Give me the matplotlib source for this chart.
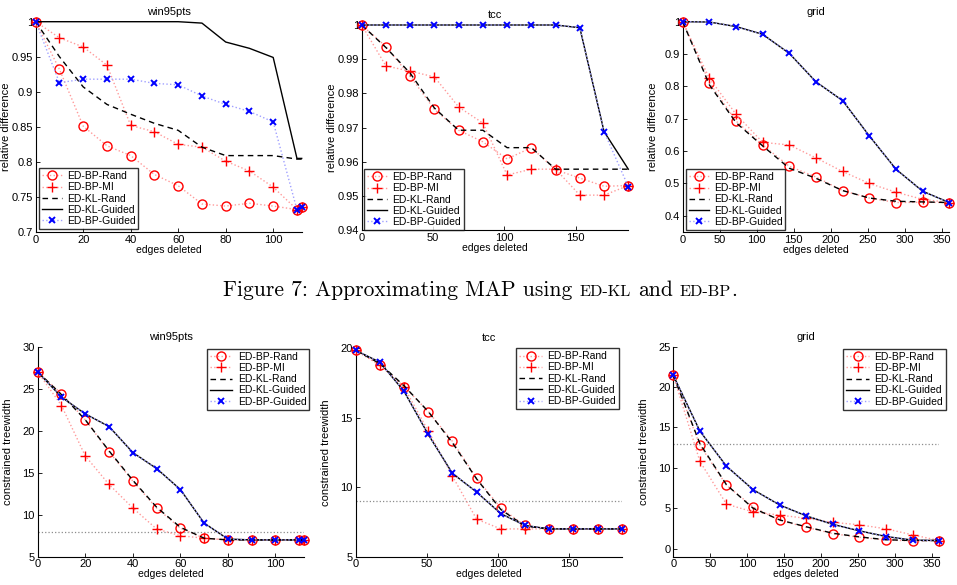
import matplotlib
matplotlib.use("Agg")
import matplotlib.pyplot as plt
from matplotlib.ticker import FuncFormatter

plt.rcParams["font.family"] = ["Liberation Sans", "DejaVu Sans"]

# ---------------- data ----------------
labels = ["ED-BP-Rand", "ED-BP-MI", "ED-KL-Rand", "ED-KL-Guided", "ED-BP-Guided"]
titles = ["win95pts", "tcc", "grid"]

x_win = [0, 10, 20, 30, 40, 50, 60, 70, 80, 90, 100, 110, 112]
x_tcc = [0, 17, 34, 51, 68, 85, 102, 119, 136, 153, 170, 187]
x_grid = [0, 36, 72, 108, 144, 180, 216, 252, 288, 324, 360]

# relative difference (top row)
win_rel_bp_rand = [1.0, 0.932, 0.851, 0.823, 0.809, 0.782, 0.766, 0.740, 0.737, 0.741, 0.737, 0.732, 0.735]
win_rel_bp_mi = [1.0, 0.977, 0.964, 0.938, 0.852, 0.843, 0.825, 0.821, 0.801, 0.787, 0.764, 0.732, 0.735]
win_rel_kl_rand = [1.0, 0.950, 0.907, 0.882, 0.868, 0.855, 0.845, 0.821, 0.809, 0.809, 0.809, 0.804, 0.804]
win_rel_kl_guided = [1.0, 1.0, 1.0, 1.0, 1.0, 1.0, 1.0, 0.998, 0.971, 0.962, 0.949, 0.805, 0.805]
win_rel_bp_guided = [1.0, 0.913, 0.918, 0.918, 0.918, 0.912, 0.910, 0.894, 0.882, 0.872, 0.857, 0.732, 0.735]

tcc_rel_bp_rand = [1.0, 0.9937, 0.985, 0.9753, 0.9692, 0.9658, 0.9608, 0.9641, 0.9576, 0.9552, 0.9528, 0.953]
tcc_rel_bp_mi = [1.0, 0.988, 0.9865, 0.9848, 0.976, 0.9713, 0.9561, 0.9578, 0.9578, 0.9502, 0.9502, 0.953]
tcc_rel_kl_rand = [1.0, 0.9934, 0.9859, 0.9757, 0.9692, 0.9692, 0.9641, 0.9641, 0.9578, 0.9578, 0.9578, 0.9578]
tcc_rel_kl_guided = [1.0, 1.0, 1.0, 1.0, 1.0, 1.0, 1.0, 1.0, 1.0, 0.9992, 0.9688, 0.9578]
tcc_rel_bp_guided = [1.0, 1.0, 1.0, 1.0, 1.0, 1.0, 1.0, 1.0, 1.0, 0.9992, 0.9688, 0.9527]

grid_rel_bp_rand = [1.0, 0.812, 0.693, 0.619, 0.553, 0.520, 0.478, 0.455, 0.441, 0.442, 0.441]
grid_rel_bp_mi = [1.0, 0.825, 0.714, 0.627, 0.619, 0.579, 0.537, 0.500, 0.473, 0.451, 0.441]
grid_rel_kl_rand = [1.0, 0.805, 0.688, 0.616, 0.547, 0.516, 0.478, 0.455, 0.445, 0.443, 0.441]
grid_rel_kl_guided = [1.0, 0.999, 0.985, 0.961, 0.902, 0.814, 0.756, 0.647, 0.544, 0.476, 0.441]
grid_rel_bp_guided = [1.0, 0.999, 0.985, 0.961, 0.902, 0.814, 0.756, 0.647, 0.544, 0.476, 0.441]

# constrained treewidth (bottom row)
win_tw_bp_rand = [27.0, 24.4, 21.3, 17.5, 14.0, 10.8, 8.4, 7.2, 7.0, 7.0, 7.0, 7.0, 7.0]
win_tw_bp_mi = [27.0, 23.0, 17.0, 13.6, 10.8, 8.3, 7.5, 7.2, 7.0, 7.0, 7.0, 7.0, 7.0]
win_tw_kl_rand = [27.0, 24.3, 21.3, 17.6, 14.1, 10.9, 8.5, 7.2, 7.0, 7.0, 7.0, 7.0, 7.0]
win_tw_kl_guided = [27.0, 24.0, 22.0, 20.5, 17.4, 15.5, 13.0, 9.0, 7.1, 7.0, 7.0, 7.0, 7.0]
win_tw_bp_guided = [27.0, 24.0, 22.0, 20.5, 17.4, 15.5, 13.0, 9.0, 7.1, 7.0, 7.0, 7.0, 7.0]
win_tw_threshold = 8

tcc_tw_bp_rand = [19.85, 18.8, 17.25, 15.45, 13.3, 10.65, 8.5, 7.25, 7.0, 7.0, 7.0, 7.0]
tcc_tw_bp_mi = [19.85, 18.8, 17.2, 14.05, 10.8, 7.7, 7.0, 7.0, 7.0, 7.0, 7.0, 7.0]
tcc_tw_kl_rand = [19.85, 18.9, 17.3, 15.45, 13.2, 10.6, 8.4, 7.2, 7.0, 7.0, 7.0, 7.0]
tcc_tw_kl_guided = [19.85, 19.0, 16.9, 13.8, 11.0, 9.65, 8.1, 7.25, 7.0, 7.0, 7.0, 7.0]
tcc_tw_bp_guided = [19.85, 19.0, 16.9, 13.8, 11.0, 9.65, 8.1, 7.25, 7.0, 7.0, 7.0, 7.0]
tcc_tw_threshold = 9

grid_tw_bp_rand = [21.45, 12.8, 7.85, 5.15, 3.5, 2.65, 1.85, 1.4, 1.07, 0.95, 1.0]
grid_tw_bp_mi = [21.45, 10.8, 5.5, 4.55, 4.15, 3.75, 3.25, 2.95, 2.45, 1.7, 1.0]
grid_tw_kl_rand = [21.45, 13.0, 7.9, 5.0, 3.55, 2.7, 1.9, 1.45, 1.1, 1.0, 1.0]
grid_tw_kl_guided = [21.45, 14.55, 10.2, 7.3, 5.4, 4.05, 3.0, 2.2, 1.5, 1.05, 1.0]
grid_tw_bp_guided = [21.45, 14.55, 10.2, 7.3, 5.4, 4.05, 3.0, 2.2, 1.5, 1.05, 1.0]
grid_tw_threshold = 13

# ---------------- layout ----------------
W, H = 957, 585
fig = plt.figure(figsize=(W / 100, H / 100), dpi=100)


def rect(l, r, t, b):
    return [l / W, (H - b) / H, (r - l) / W, (b - t) / H]


styles = [
    dict(color="#ff9a9a", ls=":", lw=1.0, marker="o", ms=6.5, mec="red", mfc="none", mew=1.0),
    dict(color="#ff9a9a", ls=":", lw=1.0, marker="+", ms=7, mec="red", mew=1.0),
    dict(color="black", ls=(0, (4, 3)), lw=1.0),
    dict(color="black", ls="-", lw=1.0),
    dict(color="#a0a0ff", ls=":", lw=1.0, marker="x", ms=5, mec="blue", mew=1.4),
]

fmt = FuncFormatter(lambda v, p: f"{v:g}")


def panel(rc, x, series, xlim, xticks, ylim, yticks, title, ylabel,
          leg_loc, leg_anchor, threshold=None, handlelen=1.9):
    ax = fig.add_axes(rect(*rc))
    if threshold is not None:
        ax.axhline(threshold, color="0.55", ls=":", lw=0.9, zorder=1)
    for ys, st, lab in zip(series, styles, labels):
        ax.plot(x, ys, label=lab, clip_on=False, zorder=3, **st)
    ax.set_xlim(*xlim)
    ax.set_ylim(*ylim)
    ax.set_xticks(xticks)
    ax.set_yticks(yticks)
    ax.xaxis.set_major_formatter(fmt)
    ax.yaxis.set_major_formatter(fmt)
    for s in ("top", "right"):
        ax.spines[s].set_visible(False)
    for s in ("left", "bottom"):
        ax.spines[s].set_linewidth(0.8)
    ax.tick_params(direction="in", length=3, width=0.6, labelsize=8, pad=2)
    ax.set_title(title, fontsize=8, pad=5)
    ax.set_xlabel("edges deleted", fontsize=7.5, labelpad=0)
    ax.set_ylabel(ylabel, fontsize=8)
    ax.yaxis.set_label_coords(-0.093, 0.5)
    leg = ax.legend(loc=leg_loc, bbox_to_anchor=leg_anchor, borderaxespad=0,
                    fontsize=7.5, frameon=True, fancybox=False, edgecolor="black",
                    labelspacing=0.12, handlelength=handlelen, handletextpad=0.5,
                    borderpad=0.28)
    leg.get_frame().set_linewidth(1.0)
    leg.set_zorder(5)
    return ax


# top row
panel((35.7, 301.7, 21.7, 232), x_win,
      [win_rel_bp_rand, win_rel_bp_mi, win_rel_kl_rand, win_rel_kl_guided, win_rel_bp_guided],
      (0, 112), [0, 20, 40, 60, 80, 100], (0.7, 1.0),
      [0.7, 0.75, 0.8, 0.85, 0.9, 0.95, 1.0], titles[0], "relative difference",
      "lower left", (0.012, 0.014))
panel((361.7, 628.3, 25, 230), x_tcc,
      [tcc_rel_bp_rand, tcc_rel_bp_mi, tcc_rel_kl_rand, tcc_rel_kl_guided, tcc_rel_bp_guided],
      (0, 187), [0, 50, 100, 150], (0.94, 1.0),
      [0.94, 0.95, 0.96, 0.97, 0.98, 0.99, 1.0], titles[1], "relative difference",
      "lower left", (0.01, 0.0))
panel((682.7, 949.3, 21.7, 232), x_grid,
      [grid_rel_bp_rand, grid_rel_bp_mi, grid_rel_kl_rand, grid_rel_kl_guided, grid_rel_bp_guided],
      (0, 360), [0, 50, 100, 150, 200, 250, 300, 350], (0.35, 1.0),
      [0.4, 0.5, 0.6, 0.7, 0.8, 0.9, 1.0], titles[2], "relative difference",
      "lower left", (0.012, 0.01))

# bottom row
panel((37.7, 304, 346.7, 556.7), x_win,
      [win_tw_bp_rand, win_tw_bp_mi, win_tw_kl_rand, win_tw_kl_guided, win_tw_bp_guided],
      (0, 112), [0, 20, 40, 60, 80, 100], (5, 30),
      [5, 10, 15, 20, 25, 30], titles[0], "constrained treewidth",
      "upper right", (1.02, 0.99), threshold=win_tw_threshold, handlelen=2.2)
panel((355.7, 621.7, 348.3, 556.7), x_tcc,
      [tcc_tw_bp_rand, tcc_tw_bp_mi, tcc_tw_kl_rand, tcc_tw_kl_guided, tcc_tw_bp_guided],
      (0, 187), [0, 50, 100, 150], (5, 20),
      [5, 10, 15, 20], titles[1], "constrained treewidth",
      "upper right", (0.99, 1.0), threshold=tcc_tw_threshold, handlelen=2.2)
panel((673.3, 939.3, 346.7, 556.7), x_grid,
      [grid_tw_bp_rand, grid_tw_bp_mi, grid_tw_kl_rand, grid_tw_kl_guided, grid_tw_bp_guided],
      (0, 360), [0, 50, 100, 150, 200, 250, 300, 350], (-1, 25),
      [0, 5, 10, 15, 20, 25], titles[2], "constrained treewidth",
      "upper right", (1.025, 0.99), threshold=grid_tw_threshold, handlelen=2.2)

# ---------------- caption (with fake small caps) ----------------
cap_family = ["cmr10", "DejaVu Serif"]
big, small = 15.5, 11.7
pieces = [("Figure 7:", big), (" ", big), ("Approximating MAP using", big), (" ", big),
          ("ED-KL", small), (" ", big), ("and", big), (" ", big), ("ED-BP", small), (".", big)]
renderer = fig.canvas.get_renderer()
space_px = big * 100 / 72 * 0.333
widths = []
texts = []
for s, fs in pieces:
    if s == " ":
        widths.append(space_px)
        texts.append(None)
        continue
    t = fig.text(0, 0, s, fontsize=fs, family=cap_family, va="baseline", ha="left")
    widths.append(t.get_window_extent(renderer).width)
    texts.append(t)
total = sum(widths)
xcur = 480 - total / 2
baseline = H - 296
for t, w in zip(texts, widths):
    if t is not None:
        t.set_position((xcur / W, baseline / H))
    xcur += w

fig.savefig("out.png", dpi=100)
